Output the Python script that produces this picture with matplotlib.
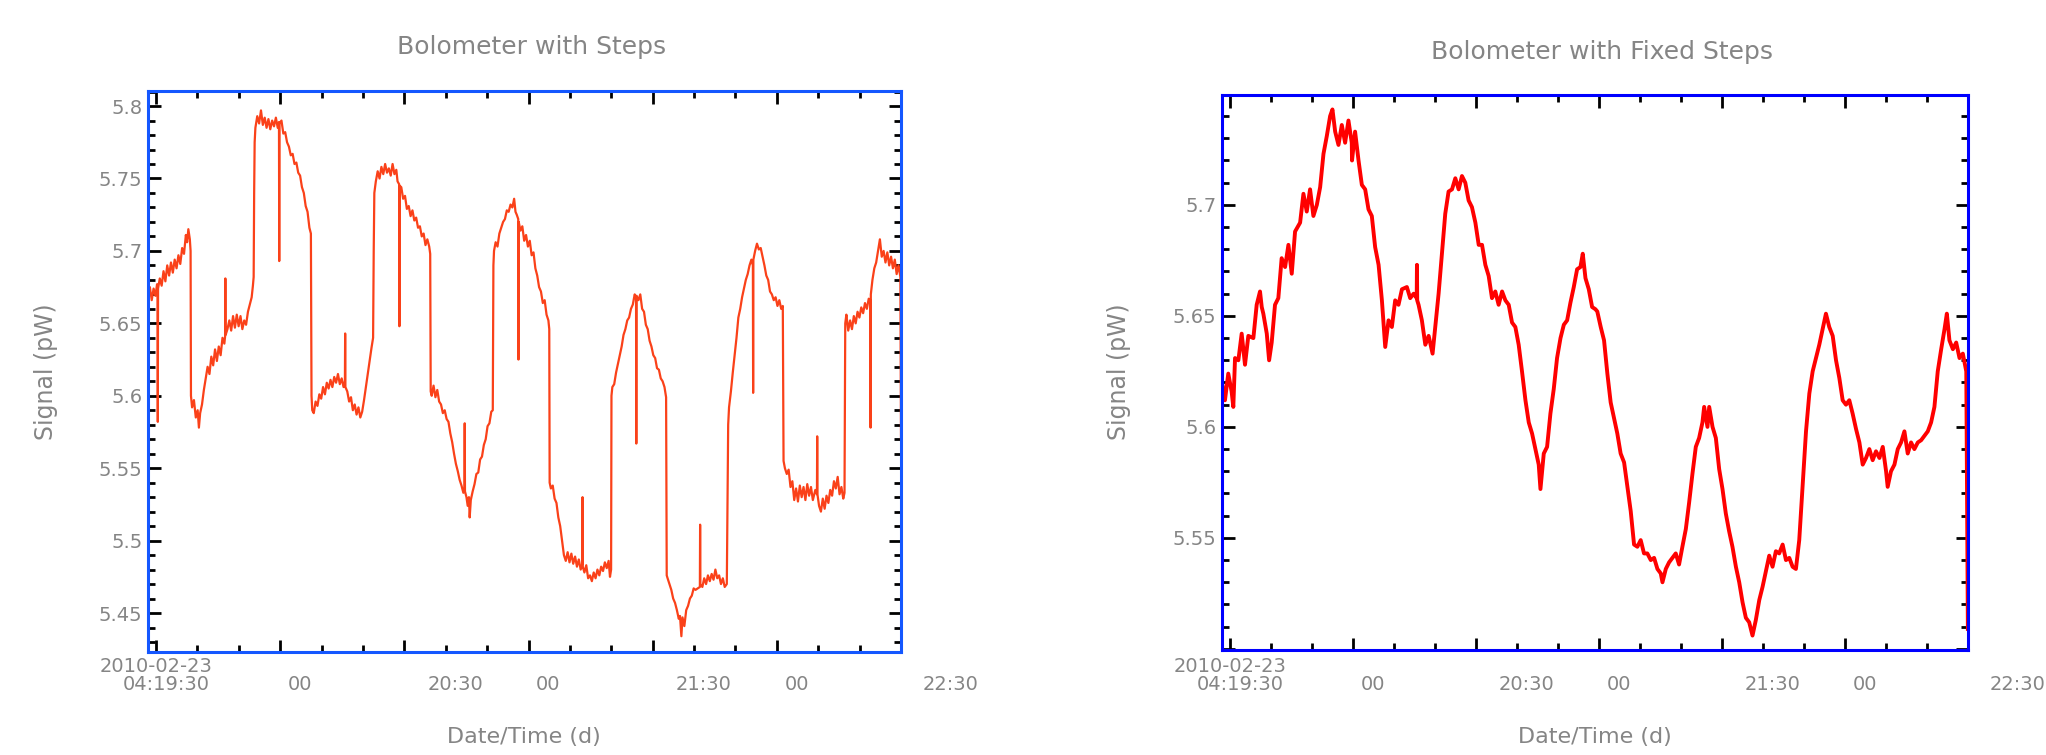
import numpy as np
import matplotlib
matplotlib.use("Agg")
import matplotlib.pyplot as plt
from matplotlib.ticker import MultipleLocator, FixedLocator, FixedFormatter
import matplotlib.transforms as mtransforms

# x in units of the major time tick (one tick = one unit), y = signal in pW
steps_pts = [
    (-0.065, 5.668), (-0.05, 5.675), (-0.035, 5.666), (-0.02, 5.674), (-0.005, 5.669),
    (0.008, 5.677), (0.012, 5.672), (0.014, 5.582), (0.016, 5.674), (0.03, 5.681),
    (0.045, 5.676), (0.06, 5.686), (0.075, 5.679), (0.09, 5.690), (0.105, 5.683),
    (0.12, 5.692), (0.135, 5.685), (0.15, 5.694), (0.165, 5.688), (0.18, 5.697),
    (0.195, 5.691), (0.21, 5.702), (0.225, 5.698), (0.24, 5.711), (0.25, 5.706),
    (0.26, 5.715), (0.272, 5.708), (0.278, 5.700), (0.281, 5.600), (0.29, 5.592),
    (0.305, 5.597), (0.32, 5.585), (0.335, 5.590), (0.345, 5.578), (0.355, 5.588),
    (0.37, 5.594), (0.385, 5.604), (0.40, 5.612), (0.415, 5.620), (0.43, 5.615),
    (0.445, 5.627), (0.46, 5.621), (0.475, 5.632), (0.49, 5.624), (0.505, 5.634),
    (0.52, 5.628), (0.535, 5.640), (0.55, 5.636), (0.556, 5.641), (0.558, 5.681),
    (0.560, 5.642), (0.575, 5.646), (0.59, 5.652), (0.605, 5.645), (0.62, 5.655),
    (0.635, 5.647), (0.65, 5.656), (0.665, 5.648), (0.68, 5.655), (0.695, 5.646),
    (0.71, 5.652), (0.725, 5.649), (0.74, 5.658), (0.755, 5.663), (0.77, 5.668),
    (0.78, 5.676), (0.786, 5.682), (0.790, 5.740), (0.794, 5.775), (0.80, 5.785),
    (0.815, 5.793), (0.83, 5.788), (0.845, 5.797), (0.86, 5.787), (0.875, 5.792),
    (0.89, 5.785), (0.905, 5.791), (0.92, 5.784), (0.935, 5.790), (0.95, 5.786),
    (0.965, 5.792), (0.98, 5.785), (0.990, 5.789), (0.992, 5.693), (0.994, 5.788),
    (1.01, 5.790), (1.025, 5.781), (1.04, 5.782), (1.055, 5.775), (1.07, 5.772),
    (1.085, 5.766), (1.10, 5.767), (1.115, 5.760), (1.13, 5.761), (1.145, 5.754),
    (1.16, 5.752), (1.175, 5.744), (1.19, 5.740), (1.205, 5.731), (1.22, 5.727),
    (1.235, 5.716), (1.247, 5.712), (1.252, 5.600), (1.258, 5.590), (1.27, 5.588),
    (1.285, 5.596), (1.30, 5.593), (1.315, 5.601), (1.33, 5.598), (1.345, 5.606),
    (1.36, 5.601), (1.375, 5.609), (1.39, 5.605), (1.405, 5.611), (1.42, 5.606),
    (1.435, 5.613), (1.45, 5.609), (1.465, 5.615), (1.48, 5.608), (1.495, 5.612),
    (1.51, 5.606), (1.521, 5.610), (1.523, 5.643), (1.525, 5.606), (1.54, 5.603),
    (1.555, 5.596), (1.57, 5.599), (1.585, 5.590), (1.60, 5.594), (1.615, 5.587),
    (1.63, 5.592), (1.645, 5.585), (1.66, 5.589), (1.675, 5.597), (1.69, 5.606),
    (1.705, 5.615), (1.72, 5.624), (1.735, 5.633), (1.748, 5.640), (1.753, 5.700),
    (1.758, 5.740), (1.77, 5.748), (1.785, 5.755), (1.80, 5.750), (1.815, 5.758),
    (1.83, 5.753), (1.845, 5.760), (1.86, 5.754), (1.875, 5.757), (1.89, 5.752),
    (1.905, 5.760), (1.92, 5.753), (1.935, 5.756), (1.945, 5.748), (1.958, 5.746),
    (1.960, 5.648), (1.962, 5.745), (1.975, 5.744), (1.99, 5.736), (2.005, 5.738),
    (2.02, 5.729), (2.035, 5.731), (2.05, 5.724), (2.065, 5.728), (2.08, 5.721),
    (2.095, 5.723), (2.11, 5.716), (2.125, 5.717), (2.14, 5.710), (2.155, 5.712),
    (2.17, 5.704), (2.185, 5.708), (2.200, 5.703), (2.208, 5.698), (2.212, 5.603),
    (2.22, 5.600), (2.235, 5.607), (2.25, 5.599), (2.265, 5.604), (2.28, 5.596),
    (2.295, 5.594), (2.31, 5.588), (2.325, 5.590), (2.34, 5.584), (2.355, 5.582),
    (2.37, 5.574), (2.385, 5.568), (2.40, 5.560), (2.415, 5.553), (2.43, 5.548),
    (2.445, 5.542), (2.46, 5.538), (2.475, 5.533), (2.484, 5.536), (2.486, 5.581),
    (2.488, 5.534), (2.50, 5.530), (2.51, 5.524), (2.52, 5.530), (2.526, 5.516),
    (2.535, 5.528), (2.55, 5.534), (2.565, 5.539), (2.58, 5.546), (2.595, 5.547),
    (2.61, 5.556), (2.625, 5.558), (2.64, 5.566), (2.655, 5.570), (2.67, 5.579),
    (2.685, 5.581), (2.70, 5.589), (2.712, 5.590), (2.717, 5.690), (2.722, 5.700),
    (2.735, 5.706), (2.75, 5.703), (2.765, 5.712), (2.78, 5.716), (2.795, 5.720),
    (2.81, 5.722), (2.825, 5.728), (2.84, 5.727), (2.855, 5.732), (2.87, 5.730),
    (2.884, 5.736), (2.895, 5.727), (2.905, 5.725), (2.917, 5.722), (2.919, 5.625),
    (2.921, 5.720), (2.935, 5.714), (2.95, 5.717), (2.965, 5.707), (2.98, 5.711),
    (2.995, 5.703), (3.01, 5.707), (3.025, 5.697), (3.04, 5.699), (3.055, 5.688),
    (3.07, 5.683), (3.085, 5.675), (3.10, 5.672), (3.115, 5.664), (3.13, 5.666),
    (3.145, 5.656), (3.160, 5.652), (3.167, 5.646), (3.170, 5.540), (3.18, 5.536),
    (3.195, 5.538), (3.21, 5.529), (3.225, 5.526), (3.24, 5.516), (3.255, 5.510),
    (3.27, 5.500), (3.285, 5.490), (3.30, 5.486), (3.315, 5.492), (3.33, 5.485),
    (3.345, 5.491), (3.36, 5.484), (3.375, 5.489), (3.39, 5.482), (3.405, 5.487),
    (3.42, 5.480), (3.433, 5.484), (3.435, 5.530), (3.437, 5.482), (3.45, 5.478),
    (3.465, 5.483), (3.48, 5.474), (3.495, 5.476), (3.51, 5.472), (3.525, 5.478),
    (3.54, 5.474), (3.555, 5.480), (3.57, 5.476), (3.585, 5.482), (3.60, 5.479),
    (3.615, 5.485), (3.63, 5.481), (3.645, 5.486), (3.656, 5.475), (3.665, 5.480),
    (3.668, 5.600), (3.675, 5.606), (3.69, 5.608), (3.705, 5.616), (3.72, 5.622),
    (3.735, 5.628), (3.75, 5.634), (3.765, 5.642), (3.78, 5.646), (3.795, 5.652),
    (3.81, 5.654), (3.825, 5.660), (3.84, 5.663), (3.855, 5.670), (3.866, 5.668),
    (3.868, 5.567), (3.870, 5.669), (3.885, 5.666), (3.90, 5.670), (3.915, 5.660),
    (3.93, 5.658), (3.945, 5.649), (3.96, 5.646), (3.975, 5.638), (3.99, 5.634),
    (4.005, 5.628), (4.02, 5.626), (4.035, 5.619), (4.05, 5.618), (4.065, 5.612),
    (4.08, 5.610), (4.095, 5.606), (4.108, 5.599), (4.113, 5.476), (4.12, 5.474),
    (4.135, 5.470), (4.15, 5.466), (4.165, 5.460), (4.18, 5.457), (4.195, 5.452),
    (4.21, 5.446), (4.22, 5.448), (4.231, 5.434), (4.24, 5.447), (4.255, 5.441),
    (4.27, 5.452), (4.285, 5.455), (4.30, 5.460), (4.315, 5.462), (4.33, 5.467),
    (4.345, 5.466), (4.38, 5.468), (4.382, 5.511), (4.384, 5.470), (4.40, 5.468),
    (4.415, 5.474), (4.43, 5.470), (4.445, 5.476), (4.46, 5.472), (4.475, 5.477),
    (4.49, 5.473), (4.505, 5.480), (4.52, 5.474), (4.535, 5.476), (4.55, 5.470),
    (4.565, 5.474), (4.58, 5.468), (4.597, 5.470), (4.608, 5.580), (4.615, 5.592),
    (4.63, 5.603), (4.645, 5.616), (4.66, 5.628), (4.675, 5.640), (4.69, 5.654),
    (4.705, 5.660), (4.72, 5.668), (4.735, 5.674), (4.75, 5.680), (4.765, 5.684),
    (4.78, 5.690), (4.795, 5.694), (4.807, 5.690), (4.809, 5.602), (4.811, 5.694),
    (4.825, 5.700), (4.84, 5.705), (4.855, 5.701), (4.87, 5.702), (4.885, 5.696),
    (4.90, 5.690), (4.915, 5.683), (4.93, 5.680), (4.945, 5.672), (4.96, 5.670),
    (4.975, 5.666), (4.99, 5.668), (5.005, 5.662), (5.02, 5.666), (5.035, 5.660),
    (5.048, 5.662), (5.054, 5.555), (5.065, 5.550), (5.08, 5.546), (5.095, 5.549),
    (5.11, 5.537), (5.125, 5.541), (5.14, 5.528), (5.155, 5.536), (5.17, 5.527),
    (5.185, 5.538), (5.20, 5.530), (5.215, 5.537), (5.23, 5.528), (5.245, 5.539),
    (5.26, 5.531), (5.275, 5.537), (5.290, 5.528), (5.310, 5.535), (5.323, 5.532),
    (5.325, 5.572), (5.327, 5.532), (5.34, 5.524), (5.355, 5.520), (5.37, 5.529),
    (5.385, 5.522), (5.40, 5.531), (5.415, 5.526), (5.43, 5.535), (5.445, 5.531),
    (5.46, 5.541), (5.475, 5.536), (5.49, 5.544), (5.505, 5.532), (5.52, 5.537),
    (5.535, 5.529), (5.545, 5.533), (5.551, 5.650), (5.56, 5.656), (5.575, 5.645),
    (5.59, 5.652), (5.605, 5.646), (5.62, 5.655), (5.635, 5.650), (5.65, 5.658),
    (5.665, 5.654), (5.68, 5.661), (5.695, 5.657), (5.71, 5.664), (5.725, 5.660),
    (5.740, 5.667), (5.752, 5.666), (5.755, 5.578), (5.757, 5.670), (5.77, 5.680),
    (5.785, 5.688), (5.80, 5.692), (5.815, 5.700), (5.83, 5.708), (5.845, 5.696),
    (5.86, 5.700), (5.875, 5.692), (5.89, 5.699), (5.905, 5.690), (5.92, 5.696),
    (5.935, 5.688), (5.95, 5.694), (5.965, 5.684), (5.98, 5.690), (5.995, 5.682),
    (6.000, 5.570),
]

fixed_pts = [
    (-0.068, 5.621), (-0.041, 5.612), (-0.014, 5.624), (0.013, 5.616), (0.027, 5.609),
    (0.041, 5.631), (0.068, 5.630), (0.095, 5.642), (0.122, 5.628), (0.149, 5.641),
    (0.190, 5.640), (0.217, 5.655), (0.244, 5.661), (0.258, 5.654), (0.271, 5.651),
    (0.299, 5.642), (0.318, 5.630), (0.339, 5.638), (0.366, 5.655), (0.393, 5.658),
    (0.420, 5.676), (0.448, 5.672), (0.475, 5.682), (0.502, 5.669), (0.529, 5.688),
    (0.570, 5.692), (0.597, 5.705), (0.624, 5.697), (0.651, 5.707), (0.678, 5.695),
    (0.706, 5.700), (0.733, 5.708), (0.760, 5.723), (0.787, 5.731), (0.814, 5.740),
    (0.833, 5.743), (0.855, 5.733), (0.882, 5.727), (0.909, 5.736), (0.936, 5.728),
    (0.963, 5.738), (0.990, 5.728), (0.992, 5.720), (1.017, 5.733), (1.045, 5.720),
    (1.072, 5.709), (1.099, 5.707), (1.126, 5.698), (1.153, 5.695), (1.180, 5.681),
    (1.208, 5.673), (1.235, 5.657), (1.262, 5.636), (1.289, 5.648), (1.316, 5.645),
    (1.343, 5.657), (1.370, 5.655), (1.398, 5.662), (1.438, 5.663), (1.465, 5.658),
    (1.493, 5.660), (1.518, 5.658), (1.520, 5.673), (1.522, 5.657), (1.533, 5.655),
    (1.560, 5.648), (1.588, 5.637), (1.615, 5.641), (1.647, 5.633), (1.669, 5.645),
    (1.696, 5.660), (1.723, 5.678), (1.750, 5.696), (1.777, 5.706), (1.805, 5.707),
    (1.832, 5.712), (1.859, 5.707), (1.886, 5.713), (1.913, 5.710), (1.940, 5.702),
    (1.967, 5.699), (1.995, 5.692), (2.022, 5.682), (2.049, 5.682), (2.076, 5.673),
    (2.103, 5.668), (2.130, 5.658), (2.157, 5.661), (2.184, 5.655), (2.212, 5.661),
    (2.239, 5.657), (2.266, 5.655), (2.293, 5.647), (2.320, 5.645), (2.347, 5.637),
    (2.374, 5.625), (2.402, 5.612), (2.429, 5.602), (2.456, 5.597), (2.483, 5.590),
    (2.510, 5.583), (2.524, 5.572), (2.551, 5.588), (2.578, 5.591), (2.605, 5.606),
    (2.632, 5.617), (2.659, 5.631), (2.687, 5.640), (2.714, 5.646), (2.741, 5.648),
    (2.768, 5.656), (2.795, 5.663), (2.822, 5.671), (2.849, 5.672), (2.868, 5.678),
    (2.890, 5.667), (2.917, 5.662), (2.944, 5.654), (2.971, 5.653), (2.986, 5.652),
    (3.014, 5.645), (3.041, 5.639), (3.068, 5.624), (3.095, 5.611), (3.122, 5.604),
    (3.149, 5.597), (3.176, 5.588), (3.204, 5.584), (3.231, 5.573), (3.258, 5.562),
    (3.285, 5.547), (3.312, 5.546), (3.339, 5.549), (3.366, 5.543), (3.393, 5.543),
    (3.421, 5.540), (3.448, 5.541), (3.475, 5.536), (3.502, 5.534), (3.516, 5.530),
    (3.543, 5.536), (3.570, 5.539), (3.597, 5.541), (3.624, 5.543), (3.651, 5.538),
    (3.678, 5.546), (3.706, 5.554), (3.733, 5.566), (3.760, 5.579), (3.787, 5.591),
    (3.814, 5.595), (3.841, 5.602), (3.855, 5.609), (3.882, 5.600), (3.896, 5.609),
    (3.923, 5.600), (3.950, 5.595), (3.977, 5.581), (4.004, 5.572), (4.031, 5.561),
    (4.058, 5.553), (4.085, 5.546), (4.113, 5.537), (4.140, 5.530), (4.167, 5.521),
    (4.194, 5.514), (4.221, 5.512), (4.248, 5.506), (4.275, 5.513), (4.303, 5.522),
    (4.330, 5.528), (4.357, 5.535), (4.384, 5.542), (4.411, 5.537), (4.438, 5.544),
    (4.465, 5.543), (4.493, 5.547), (4.520, 5.540), (4.547, 5.541), (4.574, 5.537),
    (4.601, 5.536), (4.628, 5.549), (4.655, 5.573), (4.683, 5.598), (4.710, 5.615),
    (4.737, 5.625), (4.764, 5.631), (4.791, 5.637), (4.818, 5.644), (4.845, 5.651),
    (4.872, 5.645), (4.900, 5.641), (4.927, 5.630), (4.954, 5.622), (4.981, 5.612),
    (5.008, 5.610), (5.035, 5.612), (5.062, 5.606), (5.090, 5.599), (5.117, 5.593),
    (5.144, 5.583), (5.171, 5.586), (5.198, 5.590), (5.225, 5.585), (5.252, 5.589),
    (5.280, 5.586), (5.307, 5.591), (5.334, 5.580), (5.347, 5.573), (5.374, 5.580),
    (5.402, 5.583), (5.429, 5.590), (5.456, 5.593), (5.483, 5.598), (5.510, 5.588),
    (5.537, 5.593), (5.564, 5.590), (5.592, 5.593), (5.619, 5.594), (5.646, 5.596),
    (5.673, 5.598), (5.700, 5.602), (5.727, 5.609), (5.754, 5.625), (5.782, 5.635),
    (5.809, 5.644), (5.828, 5.651), (5.849, 5.639), (5.877, 5.635), (5.904, 5.638),
    (5.931, 5.631), (5.958, 5.633), (5.986, 5.625), (5.999, 5.509),
]

time_labels = ["04:19:30", "00", "20:30", "00", "21:30", "00", "22:30"]
time_label_pos = [0.08, 1.16, 2.41, 3.16, 4.41, 5.16, 6.40]
date_label = "2010-02-23"

steps_y_major = [5.45, 5.5, 5.55, 5.6, 5.65, 5.7, 5.75, 5.8]
fixed_y_major = [5.5, 5.55, 5.6, 5.65, 5.7, 5.75]
fixed_y_labels = ["", "5.55", "5.6", "5.65", "5.7", ""]

gray = "#858585"
W, H = 2046, 755

fig = plt.figure(figsize=(W / 100, H / 100), dpi=100)

def px_axes(x0, y0, x1, y1):
    return fig.add_axes([x0 / W, 1 - y1 / H, (x1 - x0) / W, (y1 - y0) / H])

def style(ax, spine_col, ylim, yticks, ylabels):
    ax.set_xlim(-0.065, 6.0)
    ax.set_ylim(*ylim)
    for s in ax.spines.values():
        s.set_color(spine_col)
        s.set_linewidth(2.2)
        s.set_zorder(3)
    ax.xaxis.set_major_locator(MultipleLocator(1))
    ax.xaxis.set_minor_locator(MultipleLocator(1 / 3))
    ax.yaxis.set_major_locator(FixedLocator(yticks))
    ax.yaxis.set_major_formatter(FixedFormatter(ylabels))
    ax.yaxis.set_minor_locator(MultipleLocator(0.01))
    ax.tick_params(which="both", direction="in", top=True, right=True,
                   color="black", width=2.0, labelbottom=False,
                   labelsize=14, labelcolor=gray, pad=4)
    ax.tick_params(which="major", length=9)
    ax.tick_params(which="minor", length=5)
    tr = mtransforms.blended_transform_factory(ax.transData, fig.transFigure)
    ax.text(0.0, 1 - 666 / H, date_label, transform=tr, ha="center", va="center",
            fontsize=14, color=gray, clip_on=False)
    for x, lab in zip(time_label_pos, time_labels):
        ax.text(x, 1 - 685 / H, lab, transform=tr, ha="center", va="center",
                fontsize=14, color=gray, clip_on=False)

# left: raw steps
ax1 = px_axes(148, 91, 901, 652)
t1 = np.array([p[0] for p in steps_pts])
s1 = np.array([p[1] for p in steps_pts])
ax1.plot(t1, s1, color="#fa4119", lw=1.6)
style(ax1, "#1457ff", (5.4231, 5.8104), steps_y_major,
      ["%g" % v for v in steps_y_major])

# right: fixed steps
ax2 = px_axes(1222, 95, 1968, 650)
t2 = np.array([p[0] for p in fixed_pts])
s2 = np.array([p[1] for p in fixed_pts])
ax2.plot(t2, s2, color="#ff0000", lw=2.8)
style(ax2, "#0000ff", (5.4995, 5.7495), fixed_y_major, fixed_y_labels)

fig.text(532 / W, 1 - 47 / H, "Bolometer with Steps", ha="center", va="center",
         fontsize=18, color=gray)
fig.text(1602 / W, 1 - 52 / H, "Bolometer with Fixed Steps", ha="center", va="center",
         fontsize=18, color=gray)
for xc, xl in [(524, 46), (1595, 1119)]:
    fig.text(xc / W, 1 - 737 / H, "Date/Time (d)", ha="center", va="center",
             fontsize=16, color=gray)
    fig.text(xl / W, 1 - 372 / H, "Signal (pW)", ha="center", va="center",
             rotation=90, fontsize=17, color=gray)

fig.savefig("out.png", dpi=100, facecolor="white")
